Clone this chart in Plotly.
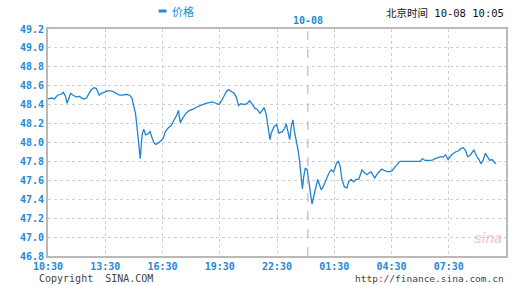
import plotly.graph_objects as go
from datetime import datetime, timedelta

# ---- data ----
times = ["10:30","10:42","10:50","11:00","11:11","11:18","11:25","11:30","11:36","11:41",
         "11:49","12:00","12:08","12:16","12:24","12:31","12:39","12:47","12:55","13:02",
         "13:11","13:18","13:26","13:37","13:44","13:54","14:05","14:15","14:26","14:36",
         "14:47","14:54","15:00","15:05","15:09","15:13","15:16","15:20","15:23","15:26",
         "15:31","15:37","15:44","15:51","15:56","16:03","16:08","16:15","16:26","16:33",
         "16:39","16:47","16:57","17:08","17:15","17:20","17:26","17:34","17:44","17:55",
         "18:05","18:15","18:26","18:36","18:47","18:57","19:07","19:18","19:28","19:37",
         "19:44","19:51","19:57","20:05","20:15","20:22","20:29","20:36","20:47","20:57",
         "21:04","21:13","21:21","21:28","21:36","21:42","21:49","21:56","22:05","22:08",
         "22:12","22:21","22:29","22:36","22:47","22:54","22:59","23:04","23:10","23:15",
         "23:20","23:25","23:30","23:36","23:41","23:46","23:50","23:54","23:59","00:05",
         "00:10","00:15","00:20","00:26","00:32","00:38","00:44","00:49","00:55","01:02",
         "01:07","01:13","01:20","01:28","01:37","01:43","01:49","01:54","02:02","02:10",
         "02:15","02:23","02:31","02:39","02:47","02:57","03:05","03:13","03:18","03:26",
         "03:37","03:47","03:59","04:10","04:21","04:31","04:43","04:57","05:13","05:34",
         "06:00","06:07","06:15","06:26","06:36","06:47","06:57","07:06","07:13","07:20",
         "07:28","07:39","07:51","08:00","08:08","08:16","08:23","08:29","08:36","08:41",
         "08:49","08:57","09:05","09:11","09:18","09:25","09:32","09:39","09:46","09:52",
         "09:58"]
prices = [48.46,48.47,48.46,48.50,48.51,48.53,48.49,48.415,48.47,48.52,
          48.50,48.48,48.49,48.47,48.46,48.47,48.52,48.56,48.58,48.57,
          48.50,48.52,48.53,48.545,48.545,48.54,48.52,48.50,48.50,48.51,
          48.50,48.47,48.38,48.31,48.19,48.08,47.99,47.83,47.96,48.08,
          48.14,48.08,48.09,48.115,48.06,48.00,47.98,47.99,48.02,48.05,
          48.115,48.15,48.18,48.24,48.29,48.34,48.21,48.26,48.31,48.34,
          48.35,48.37,48.39,48.40,48.415,48.42,48.43,48.415,48.40,48.45,
          48.50,48.54,48.56,48.545,48.52,48.48,48.39,48.41,48.40,48.415,
          48.44,48.40,48.36,48.35,48.31,48.33,48.37,48.30,48.13,48.03,
          48.10,48.17,48.19,48.10,48.115,48.15,48.20,48.115,48.03,48.17,
          48.24,48.115,48.03,47.925,47.80,47.64,47.51,47.64,47.73,47.71,
          47.61,47.47,47.35,47.43,47.52,47.61,47.55,47.50,47.53,47.585,
          47.61,47.675,47.71,47.69,47.78,47.80,47.745,47.61,47.53,47.52,
          47.585,47.61,47.585,47.61,47.61,47.71,47.68,47.66,47.675,47.69,
          47.625,47.675,47.72,47.70,47.69,47.70,47.75,47.80,47.80,47.80,
          47.80,47.83,47.81,47.81,47.81,47.83,47.84,47.85,47.845,47.87,
          47.82,47.87,47.90,47.91,47.935,47.945,47.915,47.85,47.86,47.885,
          47.92,47.86,47.82,47.775,47.81,47.885,47.84,47.81,47.82,47.80,
          47.775]
x_tick_labels = ["10:30","13:30","16:30","19:30","22:30","01:30","04:30","07:30",""]
y_ticks = [46.8,47.0,47.2,47.4,47.6,47.8,48.0,48.2,48.4,48.6,48.8,49.0,49.2]
series_name = "价格"
header_text = "北京时间"
header_time = "10-08 10:05"
day_label = "10-08"
day_split = "00:07"

start = datetime(2025, 10, 7, 10, 30)

def to_dt(hhmm):
    h, m = map(int, hhmm.split(":"))
    d = datetime(2025, 10, 7, h, m)
    if d < start:
        d += timedelta(days=1)
    return d

xs = [to_dt(t) for t in times]
tickvals = [start + timedelta(hours=3 * i) for i in range(len(x_tick_labels))]
split_dt = to_dt(day_split)

BLUE = "#2389d8"
GRID = "#cfcfcf"
BORDER = "#b9b9b9"
MONO = "DejaVu Sans Mono"

fig = go.Figure()
fig.add_trace(go.Scatter(x=xs, y=prices, mode="lines", name=series_name,
                         line=dict(color="#1e84d2", width=1.3), showlegend=False))

fig.update_layout(
    width=513, height=285,
    margin=dict(l=48, r=5, t=29, b=29),
    paper_bgcolor="white", plot_bgcolor="white",
    xaxis=dict(type="date", range=[start, start + timedelta(hours=24)],
               tickvals=tickvals, ticktext=x_tick_labels,
               showgrid=True, gridcolor=GRID, griddash="dot", gridwidth=1,
               showline=True, linecolor=BORDER, linewidth=2, mirror=True,
               ticks="", zeroline=False,
               tickfont=dict(family=MONO, size=10, color=BLUE, weight="bold")),
    yaxis=dict(range=[46.8, 49.2], tickvals=y_ticks,
               ticktext=[f"{v:.1f}" for v in y_ticks],
               showgrid=True, gridcolor=GRID, griddash="dot", gridwidth=1,
               showline=True, linecolor=BORDER, linewidth=2, mirror=True,
               ticks="", zeroline=False,
               tickfont=dict(family=MONO, size=10, color=BLUE, weight="bold")),
)

# day separator
fig.add_shape(type="line", xref="x", yref="paper", x0=split_dt, x1=split_dt, y0=0, y1=1,
              line=dict(color="#b0b0b0", width=1, dash="dash"))
fig.add_annotation(x=split_dt, xref="x", y=1, yref="paper", yshift=1,
                   text=day_label, showarrow=False, xanchor="center", yanchor="bottom",
                   font=dict(family=MONO, size=10, color=BLUE, weight="bold"))

# legend-like header
fig.add_shape(type="line", xref="paper", yref="paper",
              x0=(159 - 48) / 460, x1=(167 - 48) / 460, y0=(256 - 11) / 227, y1=(256 - 11) / 227,
              line=dict(color=BLUE, width=3))
fig.add_annotation(x=(171 - 48) / 460, xref="paper", y=(256 - 11) / 227, yref="paper",
                   text=series_name, showarrow=False, xanchor="left", yanchor="middle",
                   font=dict(family="Noto Sans CJK SC", size=11, color=BLUE))

# top-right time
fig.add_annotation(x=1, xref="paper", y=(256 - 12) / 227, yref="paper",
                   text=f"<span style='font-family:Noto Sans CJK SC;font-size:10.5px'>{header_text}</span> {header_time}",
                   showarrow=False, xanchor="right", yanchor="middle",
                   font=dict(family=MONO, size=10.5, color="#111111"))

# footer
fig.add_annotation(x=(37 - 48) / 460, xref="paper", y=(256 - 278) / 227, yref="paper",
                   text="Copyright  SINA.COM", showarrow=False, xanchor="left", yanchor="middle",
                   font=dict(family=MONO, size=10, color="#444444"))
fig.add_annotation(x=1, xref="paper", y=(256 - 278) / 227, yref="paper",
                   text="http://finance.sina.com.cn", showarrow=False, xanchor="right", yanchor="middle",
                   font=dict(family=MONO, size=9.5, color="#444444"))

# faint sina logo
fig.add_annotation(x=0.995, xref="paper", y=0.035, yref="paper",
                   text="<i><b>sina</b></i>", showarrow=False, xanchor="right", yanchor="bottom",
                   font=dict(family="Liberation Sans", size=14, color="rgba(220,120,120,0.35)"))

fig.write_html("out.html")
